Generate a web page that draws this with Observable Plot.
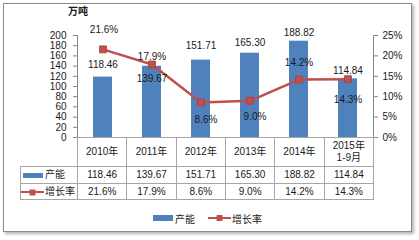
<!DOCTYPE html>
<html><head><meta charset="utf-8">
<script src="https://cdn.jsdelivr.net/npm/d3@7"></script>
<script src="https://cdn.jsdelivr.net/npm/@observablehq/plot@0.6"></script>
<style>
body{margin:0;background:#fff;}
#wrap{position:relative;width:419px;height:240px;overflow:hidden;font-family:"Liberation Sans","Noto Sans CJK SC",sans-serif;color:#1a1a1a;background:#fff;}
#frame{position:absolute;left:3px;top:3px;width:407px;height:227px;border:1px solid #8a8a8a;box-shadow:2px 2px 3px #b4b4b4;background:#fff;}
#chart{position:absolute;left:0;top:0;}
#unit{position:absolute;left:68px;top:5px;font-size:10px;font-weight:bold;line-height:14px;}
#tbl{position:absolute;left:20px;top:137px;border-collapse:collapse;table-layout:fixed;font-size:10px;}
#tbl td{border:1px solid #a6a6a6;text-align:center;padding:0;line-height:12px;}
#tbl td.lab{text-align:left;white-space:nowrap;}
#tbl td.blank{border-top:none;border-left:none;}
.sw{display:inline-block;vertical-align:middle;}
#legend{position:absolute;top:210px;left:0;width:419px;height:14px;font-size:10px;}
#legend span{position:absolute;}
</style>
</head><body>
<div id="wrap">
  <div id="frame"></div>
  <div id="unit"></div>
  <div id="chart"></div>
  <table id="tbl"></table>
  <div id="legend"></div>
</div>
<script>
// ---- data ----
const categories = ["2010年", "2011年", "2012年", "2013年", "2014年", "2015年\n1-9月"];
const capacity = [118.46, 139.67, 151.71, 165.30, 188.82, 114.84];
const growth = [21.6, 17.9, 8.6, 9.0, 14.2, 14.3];
const capacityLabels = ["118.46", "139.67", "151.71", "165.30", "188.82", "114.84"];
const growthLabels = ["21.6%", "17.9%", "8.6%", "9.0%", "14.2%", "14.3%"];
const leftTicks = [0, 20, 40, 60, 80, 100, 120, 140, 160, 180, 200];
const rightTicks = [0, 5, 10, 15, 20, 25];
const seriesNames = ["产能", "增长率"];
const unitLabel = "万吨";

// ---- styles ----
const BLUE = "#4F81BD", RED = "#C0504D", AXIS = "#868686";
const ratio = 200 / 25; // secondary axis mapping
const capDy = [-12, 13, -14, -10, -8, -8];
const growthDy = [-20, -8, 17, 16, -17, 21];
const growthDx = [1, 0, 5, 5, 0, 0];

const rows = categories.map((c, i) => ({c, v: capacity[i], g: growth[i], i}));

document.getElementById("unit").textContent = unitLabel;

const marks = [
  Plot.barY(rows, {x: "c", y: "v", fill: BLUE, style: {filter: "drop-shadow(1.5px 1px 1px rgba(0,0,0,0.35))"}}),
  Plot.axisY({anchor: "left", ticks: leftTicks, tickSize: 4, tickPadding: 7, label: null, stroke: AXIS, fill: "#1a1a1a"}),
  Plot.axisY({anchor: "right", ticks: rightTicks.map(t => t * ratio), tickFormat: d => (d / ratio) + "%", tickSize: 4, tickPadding: 5, label: null, stroke: AXIS, fill: "#1a1a1a"}),
  Plot.line(rows, {x: "c", y: d => d.g * ratio, stroke: RED, strokeWidth: 2.5}),
  Plot.dot(rows, {x: "c", y: d => d.g * ratio, symbol: "square", r: 3.9, fill: RED, stroke: "#a8403d", strokeWidth: 0.8})
];
rows.forEach((d, i) => {
  marks.push(Plot.text([d], {x: "c", y: "v", text: () => capacityLabels[i], dy: capDy[i], fill: "#1a1a1a"}));
  marks.push(Plot.text([d], {x: "c", y: dd => dd.g * ratio, text: () => growthLabels[i], dy: growthDy[i], dx: growthDx[i], fill: "#1a1a1a"}));
});

const plot = Plot.plot({
  width: 419, height: 140,
  marginTop: 35, marginBottom: 3, marginLeft: 77, marginRight: 46,
  style: {fontFamily: '"Liberation Sans","Noto Sans CJK SC",sans-serif', fontSize: "10px", background: "transparent", overflow: "visible", color: "#1a1a1a"},
  x: {type: "band", domain: categories, paddingInner: 0.62, paddingOuter: 0.31, axis: null},
  y: {domain: [0, 200], axis: null},
  marks
});
document.getElementById("chart").appendChild(plot);

// axis lines
const xs = plot.scale("x"), ys = plot.scale("y");
const svg = d3.select(plot);
const xl = xs.range[0], xr = xs.range[1];
svg.append("line").attr("x1", xl + 0.5).attr("x2", xl + 0.5).attr("y1", ys.apply(200)).attr("y2", ys.apply(0)).attr("stroke", AXIS);
svg.append("line").attr("x1", xr + 0.5).attr("x2", xr + 0.5).attr("y1", ys.apply(200)).attr("y2", ys.apply(0)).attr("stroke", AXIS);

// ---- data table ----
const tbl = d3.select("#tbl");
const colW = (xr - xl) / categories.length;
tbl.style("left", "20px").style("width", (xr - 20 + 1) + "px");
const cg = tbl.append("colgroup");
cg.append("col").style("width", (xl - 20) + "px");
categories.forEach(() => cg.append("col").style("width", colW + "px"));
const r0 = tbl.append("tr").style("height", "29px");
r0.append("td").attr("class", "blank");
categories.forEach(c => r0.append("td").html(c.replace("\n", "<br>")));
const r1 = tbl.append("tr").style("height", "17px");
r1.append("td").attr("class", "lab").html(`<span class="sw" style="width:20px;height:5px;background:${BLUE};margin:0 2px 0 2px;"></span>${seriesNames[0]}`);
capacityLabels.forEach(t => r1.append("td").text(t));
const r2 = tbl.append("tr").style("height", "16px");
r2.append("td").attr("class", "lab").html(`<svg class="sw" width="24" height="8" style="margin-right:0px"><line x1="0" x2="23" y1="4" y2="4" stroke="${RED}" stroke-width="2"/><rect x="8.5" y="1.5" width="6" height="6" fill="${RED}"/></svg>${seriesNames[1]}`);
growthLabels.forEach(t => r2.append("td").text(t));

// ---- legend ----
const lg = d3.select("#legend");
lg.append("span").style("left", "153px").style("top", "5px").style("width", "20px").style("height", "6px").style("background", BLUE);
lg.append("span").style("left", "175px").style("top", "1px").text(seriesNames[0]);
lg.append("span").style("left", "208px").style("top", "2px").html(`<svg width="24" height="10"><line x1="0" x2="23" y1="6" y2="6" stroke="${RED}" stroke-width="2"/><rect x="8.5" y="3" width="6" height="6" fill="${RED}"/></svg>`);
lg.append("span").style("left", "232px").style("top", "1px").text(seriesNames[1]);
</script>
</body></html>
